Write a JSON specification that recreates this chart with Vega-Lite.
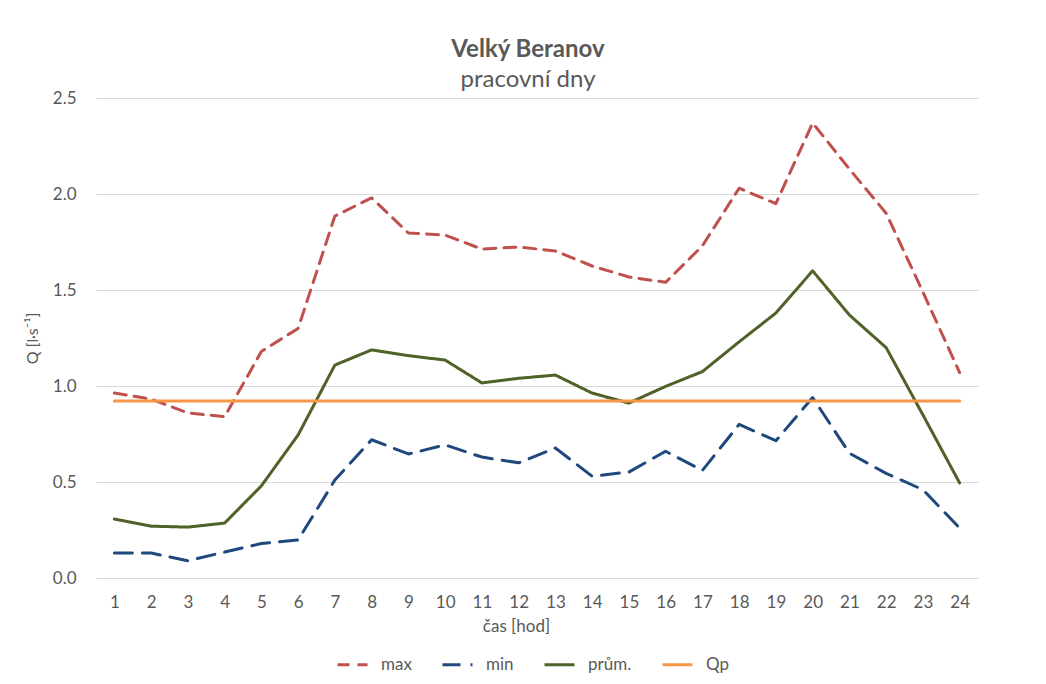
{
  "$schema": "https://vega.github.io/schema/vega-lite/v6.json",
  "autosize": {"type": "none"},
  "width": 882,
  "height": 480,
  "padding": {"left": 96, "top": 98, "right": 68, "bottom": 106},
  "background": "white",
  "title": {
    "text": "Velký Beranov",
    "subtitle": "pracovní dny",
    "font": "Lato",
    "subtitleFont": "Lato",
    "fontSize": 24,
    "subtitleFontSize": 24,
    "fontWeight": "bold",
    "color": "#595959",
    "subtitleColor": "#595959",
    "anchor": "middle",
    "dx": -9,
    "offset": -3,
    "subtitlePadding": 6
  },
  "data": {
    "values": [
      {"hour": 1, "series": "max", "value": 0.963},
      {"hour": 2, "series": "max", "value": 0.932},
      {"hour": 3, "series": "max", "value": 0.86},
      {"hour": 4, "series": "max", "value": 0.84},
      {"hour": 5, "series": "max", "value": 1.18},
      {"hour": 6, "series": "max", "value": 1.30},
      {"hour": 7, "series": "max", "value": 1.885},
      {"hour": 8, "series": "max", "value": 1.98},
      {"hour": 9, "series": "max", "value": 1.797},
      {"hour": 10, "series": "max", "value": 1.786},
      {"hour": 11, "series": "max", "value": 1.713},
      {"hour": 12, "series": "max", "value": 1.724},
      {"hour": 13, "series": "max", "value": 1.703},
      {"hour": 14, "series": "max", "value": 1.625},
      {"hour": 15, "series": "max", "value": 1.568},
      {"hour": 16, "series": "max", "value": 1.54},
      {"hour": 17, "series": "max", "value": 1.73},
      {"hour": 18, "series": "max", "value": 2.03},
      {"hour": 19, "series": "max", "value": 1.95},
      {"hour": 20, "series": "max", "value": 2.37},
      {"hour": 21, "series": "max", "value": 2.13},
      {"hour": 22, "series": "max", "value": 1.9},
      {"hour": 23, "series": "max", "value": 1.49},
      {"hour": 24, "series": "max", "value": 1.07},
      {"hour": 1, "series": "min", "value": 0.13},
      {"hour": 2, "series": "min", "value": 0.13},
      {"hour": 3, "series": "min", "value": 0.09},
      {"hour": 4, "series": "min", "value": 0.135},
      {"hour": 5, "series": "min", "value": 0.18},
      {"hour": 6, "series": "min", "value": 0.198},
      {"hour": 7, "series": "min", "value": 0.51},
      {"hour": 8, "series": "min", "value": 0.72},
      {"hour": 9, "series": "min", "value": 0.646},
      {"hour": 10, "series": "min", "value": 0.693},
      {"hour": 11, "series": "min", "value": 0.63},
      {"hour": 12, "series": "min", "value": 0.6},
      {"hour": 13, "series": "min", "value": 0.677},
      {"hour": 14, "series": "min", "value": 0.53},
      {"hour": 15, "series": "min", "value": 0.552},
      {"hour": 16, "series": "min", "value": 0.66},
      {"hour": 17, "series": "min", "value": 0.56},
      {"hour": 18, "series": "min", "value": 0.80},
      {"hour": 19, "series": "min", "value": 0.715},
      {"hour": 20, "series": "min", "value": 0.94},
      {"hour": 21, "series": "min", "value": 0.65},
      {"hour": 22, "series": "min", "value": 0.545},
      {"hour": 23, "series": "min", "value": 0.46},
      {"hour": 24, "series": "min", "value": 0.26},
      {"hour": 1, "series": "prům.", "value": 0.307},
      {"hour": 2, "series": "prům.", "value": 0.27},
      {"hour": 3, "series": "prům.", "value": 0.265},
      {"hour": 4, "series": "prům.", "value": 0.286},
      {"hour": 5, "series": "prům.", "value": 0.48},
      {"hour": 6, "series": "prům.", "value": 0.745},
      {"hour": 7, "series": "prům.", "value": 1.109},
      {"hour": 8, "series": "prům.", "value": 1.188},
      {"hour": 9, "series": "prům.", "value": 1.158},
      {"hour": 10, "series": "prům.", "value": 1.135},
      {"hour": 11, "series": "prům.", "value": 1.016},
      {"hour": 12, "series": "prům.", "value": 1.04},
      {"hour": 13, "series": "prům.", "value": 1.057},
      {"hour": 14, "series": "prům.", "value": 0.963},
      {"hour": 15, "series": "prům.", "value": 0.911},
      {"hour": 16, "series": "prům.", "value": 0.998},
      {"hour": 17, "series": "prům.", "value": 1.075},
      {"hour": 18, "series": "prům.", "value": 1.23},
      {"hour": 19, "series": "prům.", "value": 1.38},
      {"hour": 20, "series": "prům.", "value": 1.6},
      {"hour": 21, "series": "prům.", "value": 1.37},
      {"hour": 22, "series": "prům.", "value": 1.2},
      {"hour": 23, "series": "prům.", "value": 0.85},
      {"hour": 24, "series": "prům.", "value": 0.495},
      {"hour": 1, "series": "Qp", "value": 0.922},
      {"hour": 2, "series": "Qp", "value": 0.922},
      {"hour": 3, "series": "Qp", "value": 0.922},
      {"hour": 4, "series": "Qp", "value": 0.922},
      {"hour": 5, "series": "Qp", "value": 0.922},
      {"hour": 6, "series": "Qp", "value": 0.922},
      {"hour": 7, "series": "Qp", "value": 0.922},
      {"hour": 8, "series": "Qp", "value": 0.922},
      {"hour": 9, "series": "Qp", "value": 0.922},
      {"hour": 10, "series": "Qp", "value": 0.922},
      {"hour": 11, "series": "Qp", "value": 0.922},
      {"hour": 12, "series": "Qp", "value": 0.922},
      {"hour": 13, "series": "Qp", "value": 0.922},
      {"hour": 14, "series": "Qp", "value": 0.922},
      {"hour": 15, "series": "Qp", "value": 0.922},
      {"hour": 16, "series": "Qp", "value": 0.922},
      {"hour": 17, "series": "Qp", "value": 0.922},
      {"hour": 18, "series": "Qp", "value": 0.922},
      {"hour": 19, "series": "Qp", "value": 0.922},
      {"hour": 20, "series": "Qp", "value": 0.922},
      {"hour": 21, "series": "Qp", "value": 0.922},
      {"hour": 22, "series": "Qp", "value": 0.922},
      {"hour": 23, "series": "Qp", "value": 0.922},
      {"hour": 24, "series": "Qp", "value": 0.922}
    ]
  },
  "mark": {"type": "line", "strokeWidth": 3, "strokeCap": "round", "strokeJoin": "round"},
  "encoding": {
    "x": {
      "field": "hour",
      "type": "ordinal",
      "title": "čas [hod]",
      "axis": {
        "labelAngle": 0,
        "domain": false,
        "ticks": false,
        "grid": false,
        "labelFont": "Lato",
        "labelFontSize": 17,
        "labelColor": "#595959",
        "labelPadding": 16,
        "titleFont": "Lato",
        "titleFontSize": 17,
        "titleFontWeight": "normal",
        "titleColor": "#595959",
        "titlePadding": 8,
        "titleX": 420
      }
    },
    "y": {
      "field": "value",
      "type": "quantitative",
      "title": "Q [l·s⁻¹]",
      "scale": {"domain": [0, 2.5], "nice": false},
      "axis": {
        "values": [0, 0.5, 1, 1.5, 2, 2.5],
        "format": ".1f",
        "domain": false,
        "ticks": false,
        "gridColor": "#D9D9D9",
        "gridWidth": 1,
        "labelFont": "Lato",
        "labelFontSize": 17,
        "labelColor": "#595959",
        "labelPadding": 20,
        "titleFont": "Lato",
        "titleFontSize": 16,
        "titleFontWeight": "normal",
        "titleColor": "#595959",
        "titlePadding": 12
      }
    },
    "color": {
      "field": "series",
      "type": "nominal",
      "sort": ["max", "min", "prům.", "Qp"],
      "scale": {
        "domain": ["max", "min", "prům.", "Qp"],
        "range": ["#C0504D", "#1F497D", "#4F6228", "#F79646"]
      },
      "legend": {
        "title": null,
        "orient": "none",
        "legendX": 240,
        "legendY": 550,
        "direction": "horizontal",
        "columns": 4,
        "columnPadding": 24,
        "symbolType": "stroke",
        "symbolStrokeWidth": 3,
        "symbolSize": 900,
        "labelFont": "Lato",
        "labelFontSize": 17,
        "labelColor": "#595959",
        "labelOffset": 12
      }
    },
    "strokeDash": {
      "field": "series",
      "type": "nominal",
      "sort": ["max", "min", "prům.", "Qp"],
      "scale": {
        "domain": ["max", "min", "prům.", "Qp"],
        "range": [[12, 8], [18, 10], [1, 0], [1, 0]]
      },
      "legend": null
    }
  },
  "config": {
    "view": {"stroke": null}
  }
}
